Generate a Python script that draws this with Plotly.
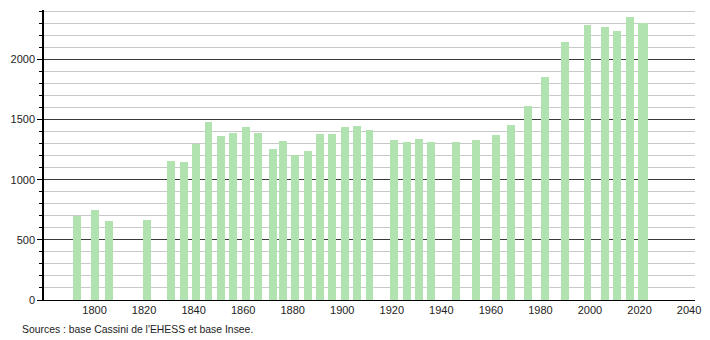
import plotly.graph_objects as go

years = [1793, 1800, 1806, 1821, 1831, 1836, 1841, 1846, 1851, 1856, 1861, 1866,
         1872, 1876, 1881, 1886, 1891, 1896, 1901, 1906, 1911, 1921, 1926, 1931,
         1936, 1946, 1954, 1962, 1968, 1975, 1982, 1990, 1999, 2006, 2011, 2016,
         2021, 2022]
population = [698, 748, 659, 664, 1155, 1146, 1293, 1478, 1365, 1391, 1440, 1390,
              1254, 1323, 1202, 1237, 1379, 1381, 1437, 1445, 1412, 1329, 1312, 1337,
              1312, 1312, 1329, 1370, 1453, 1611, 1852, 2143, 2287, 2267, 2234, 2350,
              2298, 2298]
x_ticks = [1800, 1820, 1840, 1860, 1880, 1900, 1920, 1940, 1960, 1980, 2000, 2020, 2040]
source_text = "Sources : base Cassini de l'EHESS et base Insee."

fig = go.Figure()
fig.add_trace(go.Bar(
    x=years, y=population, width=3.2,
    marker=dict(color="#b1e3b1", line=dict(width=0)),
    hoverinfo="x+y",
))

font = dict(family="Liberation Sans, Arial, sans-serif", size=11, color="#222")
src_font = dict(family="Liberation Sans, Arial, sans-serif", size=10.4, color="#222")

fig.update_layout(
    width=710, height=340,
    margin=dict(l=44, r=9, t=10, b=40),
    paper_bgcolor="white", plot_bgcolor="white",
    showlegend=False,
    font=font,
    bargap=0,
    xaxis=dict(
        range=[1779.6, 2042.4],
        tickmode="array", tickvals=x_ticks,
        ticks="", showgrid=False, zeroline=False,
        showline=True, linecolor="black", linewidth=1,
        tickfont=font,
        fixedrange=True,
    ),
    yaxis=dict(
        range=[0, 2410],
        tickmode="linear", tick0=0, dtick=500,
        ticks="outside", ticklen=5, tickcolor="black", tickwidth=1,
        showgrid=True, gridcolor="#3a3a3a", gridwidth=1,
        zeroline=False,
        showline=True, linecolor="black", linewidth=1.5,
        tickfont=font,
        minor=dict(dtick=100, tick0=0, ticks="outside", ticklen=3,
                   tickcolor="black", showgrid=True, gridcolor="#c8c8c8", gridwidth=1),
        fixedrange=True,
    ),
    annotations=[dict(
        text=source_text, xref="paper", yref="paper",
        x=-0.0365, y=-0.1, xanchor="left", yanchor="middle",
        showarrow=False, font=src_font,
    )],
)

fig.write_html("out.html")
